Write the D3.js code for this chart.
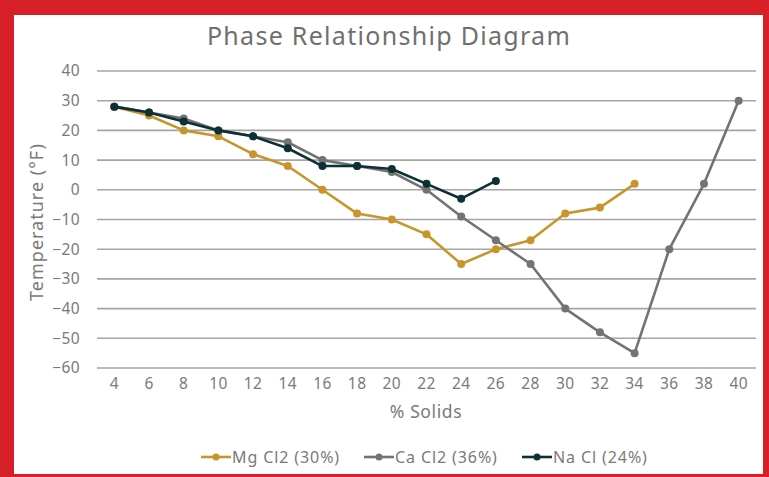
<!DOCTYPE html>
<html>
<head>
<meta charset="utf-8">
<script src="https://cdn.jsdelivr.net/npm/d3@7"></script>
<style>
html,body{margin:0;padding:0;background:#d71f27;}
svg{display:block;}
</style>
</head>
<body>
<svg id="chart" width="769" height="477"></svg>
<script>
const categories = [4,6,8,10,12,14,16,18,20,22,24,26,28,30,32,34,36,38,40];
const yTicks = [40,30,20,10,0,-10,-20,-30,-40,-50,-60];
const mgCl2 = [28,25,20,18,12,8,0,-8,-10,-15,-25,-20,-17,-8,-6,2];
const caCl2 = [28,26,24,20,18,16,10,8,6,0,-9,-17,-25,-40,-48,-55,-20,2,30];
const naCl  = [28,26,23,20,18,14,8,8,7,2,-3,3];
const seriesNames = ["Mg Cl2 (30%)","Ca Cl2 (36%)","Na Cl (24%)"];
const seriesColors = ["#c8952c","#737373","#0c3036"];

const svg = d3.select("#chart");
const font = "'Noto Sans', sans-serif";
const textColor = "#7a7a7a";

// white panel
svg.append("rect").attr("x",14).attr("y",15).attr("width",749).attr("height",459).attr("fill","#fff");

const x = d3.scaleBand().domain(categories).range([97,756]).padding(0);
const y = d3.scaleLinear().domain([-60,40]).range([368,71]);

// gridlines
svg.append("g").selectAll("line").data(yTicks).join("line")
  .attr("x1",97).attr("x2",756)
  .attr("y1",d=>y(d)).attr("y2",d=>y(d))
  .attr("stroke","#a5a5a5").attr("stroke-width",1.6);

// y axis
const yAxis = svg.append("g").attr("transform","translate(84,0)")
  .call(d3.axisLeft(y).tickValues(yTicks).tickSize(0).tickPadding(4));
yAxis.select(".domain").remove();
yAxis.selectAll("text").attr("font-family",font).attr("font-size",15.5).attr("letter-spacing",0.4).attr("fill",textColor);

// x axis
const xAxis = svg.append("g").attr("transform","translate(0,376)")
  .call(d3.axisBottom(x).tickSize(0).tickPadding(2));
xAxis.select(".domain").remove();
xAxis.selectAll("text").attr("font-family",font).attr("font-size",15.5).attr("letter-spacing",0.4).attr("fill",textColor);

// titles
svg.append("text").attr("x",389).attr("y",45).attr("text-anchor","middle")
  .attr("font-family",font).attr("font-size",25).attr("letter-spacing",1.3).attr("fill","#6f6f6f").text("Phase Relationship Diagram");
svg.append("text").attr("x",426).attr("y",418).attr("text-anchor","middle")
  .attr("font-family",font).attr("font-size",17.5).attr("letter-spacing",0.6).attr("fill",textColor).text("% Solids");
svg.append("text").attr("transform","translate(43,222) rotate(-90)").attr("text-anchor","middle")
  .attr("font-family",font).attr("font-size",18).attr("letter-spacing",1).attr("fill",textColor).text("Temperature (°F)");

// series
const allSeries = [mgCl2, caCl2, naCl];
const cx = i => x(categories[i]) + x.bandwidth()/2;
const line = d3.line().x((d,i)=>cx(i)).y(d=>y(d));
allSeries.forEach((vals,si)=>{
  const g = svg.append("g");
  g.append("path").attr("d",line(vals)).attr("fill","none")
    .attr("stroke",seriesColors[si]).attr("stroke-width",2.6).attr("stroke-linejoin","round");
  g.selectAll("circle").data(vals).join("circle")
    .attr("cx",(d,i)=>cx(i)).attr("cy",d=>y(d)).attr("r",4).attr("fill",seriesColors[si]);
});

// legend
const legendX = [201,364,522];
const lg = svg.append("g");
seriesNames.forEach((name,i)=>{
  const g = lg.append("g").attr("transform",`translate(${legendX[i]},457)`);
  g.append("line").attr("x1",0).attr("x2",30).attr("stroke",seriesColors[i]).attr("stroke-width",2.6);
  g.append("circle").attr("cx",15).attr("r",3.5).attr("fill",seriesColors[i]);
  g.append("text").attr("x",31).attr("y",5.5).attr("font-family",font).attr("font-size",16)
    .attr("letter-spacing",0.9).attr("fill",textColor).text(name);
});
</script>
</body>
</html>
